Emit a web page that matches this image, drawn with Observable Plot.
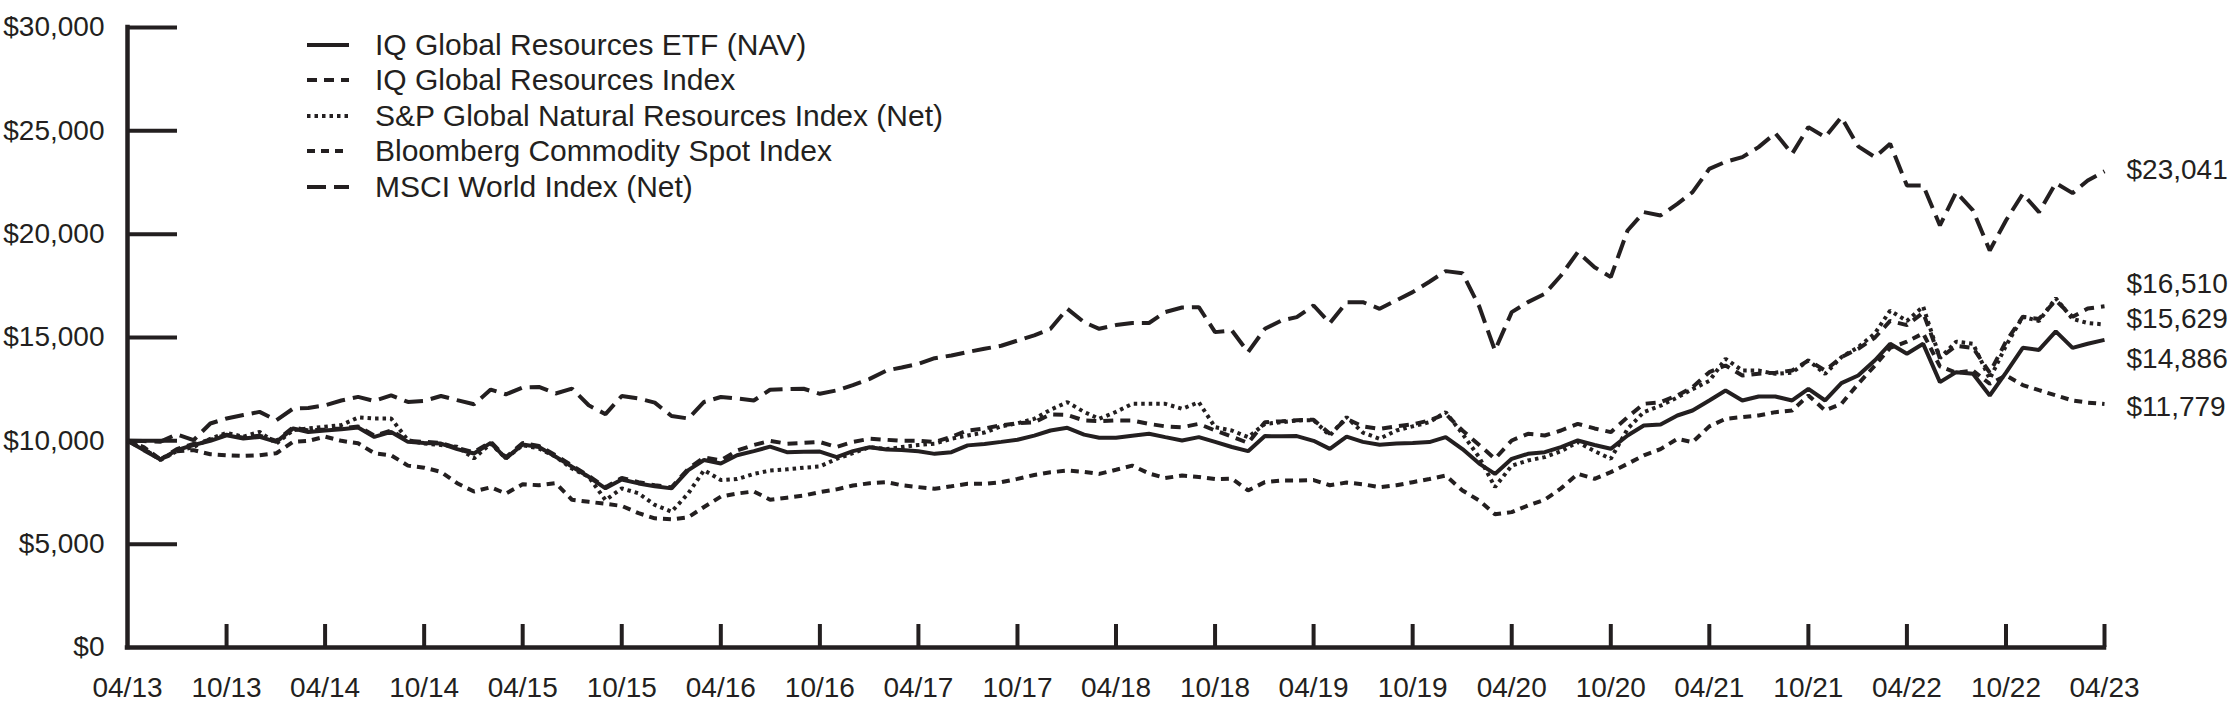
<!DOCTYPE html>
<html><head><meta charset="utf-8">
<script src="https://cdn.jsdelivr.net/npm/d3@7"></script>
<script src="https://cdn.jsdelivr.net/npm/@observablehq/plot@0.6"></script>
<style>
body{margin:0;background:#fff;}
#wrap{position:relative;width:2230px;height:704px;font-family:"Liberation Sans",Arial,sans-serif;color:#231f20;}
#legend{position:absolute;left:307px;top:27px;}
.row{display:flex;align-items:center;height:35.5px;font-size:30px;white-space:nowrap;}
.row svg{width:42px;height:10px;margin-right:26px;flex:none;}
</style></head><body><div id="wrap"><div id="legend"></div></div>
<script>
// ---- data ----
const startMonth = "2013-04";
const seriesNames = [
  "IQ Global Resources ETF (NAV)",
  "IQ Global Resources Index",
  "S&P Global Natural Resources Index (Net)",
  "Bloomberg Commodity Spot Index",
  "MSCI World Index (Net)"
];
const etfNav = [10000,9550,9100,9550,9800,10000,10270,10110,10190,9950,10600,10430,10500,10560,10640,10190,10430,9950,9900,9870,9600,9390,9900,9150,9820,9700,9230,8750,8260,7700,8130,7940,7800,7700,8580,9070,8900,9300,9500,9720,9450,9470,9480,9210,9500,9690,9580,9560,9500,9370,9450,9780,9850,9950,10050,10250,10500,10630,10300,10150,10150,10250,10340,10180,10020,10180,9950,9700,9500,10230,10220,10230,10000,9610,10200,9950,9810,9870,9900,9940,10180,9600,8900,8400,9130,9370,9450,9700,10017,9800,9614,10259,10743,10791,11226,11468,11950,12436,11952,12146,12146,11952,12517,11952,12791,13162,13900,14694,14211,14694,12839,13323,13243,12194,13300,14500,14400,15300,14500,14700,14886];
const iqIndex = [10000,9600,9100,9600,9850,10050,10300,10150,10250,10000,10650,10500,10550,10600,10700,10250,10500,10000,9950,9900,9650,9450,9950,9200,9900,9750,9300,8800,8300,7750,8200,8000,7850,7750,8650,9200,9050,9530,9800,10000,9860,9900,9940,9700,9950,10100,10050,10000,10000,9940,10200,10500,10600,10750,10850,10900,11280,11250,10985,10950,10990,10985,10820,10700,10660,10820,10500,10200,9900,10900,10950,11000,11020,10340,11065,10700,10580,10700,10800,10985,11300,10500,9800,9130,10017,10339,10259,10500,10823,10600,10420,11146,11791,11872,12200,12598,13323,13646,13162,13250,13300,13404,13888,13404,14049,14453,15000,15800,15600,16200,14000,14600,14500,13300,14800,16000,15900,16800,16000,16400,16510];
const spNatRes = [10000,9600,9070,9500,9700,10100,10390,10200,10435,9870,10515,10600,10680,10760,11130,11080,11080,10030,9870,9800,9710,9150,9870,9150,9790,9630,9230,8660,8260,7130,7700,7460,6900,6570,7460,8580,8100,8150,8400,8560,8620,8700,8760,9130,9400,9700,9600,9700,9800,9860,10100,10260,10400,10700,10850,11065,11500,11870,11400,11065,11400,11790,11790,11790,11549,11870,10660,10500,10180,10820,10900,10985,11000,10260,11146,10400,10100,10500,10700,10904,11388,10340,9200,7760,8800,9050,9210,9500,9940,9500,9130,10580,11390,11700,12100,12500,12900,13970,13400,13400,13240,13300,13890,13240,14050,14530,15200,16300,15800,16500,14000,14800,14700,13000,14600,16000,15800,16900,15900,15700,15629];
const bcomSpot = [10000,9700,9100,9500,9550,9350,9300,9270,9300,9400,9950,10000,10200,10000,9880,9400,9300,8800,8700,8500,7950,7550,7750,7450,7900,7850,7950,7150,7050,6950,6850,6500,6250,6200,6300,6800,7300,7450,7550,7150,7250,7350,7520,7650,7840,7950,8000,7850,7760,7680,7800,7920,7920,8000,8160,8350,8480,8560,8500,8400,8600,8800,8420,8200,8320,8250,8150,8170,7600,8000,8080,8080,8100,7850,7980,7900,7760,7850,8000,8150,8320,7600,7110,6450,6550,6870,7150,7700,8400,8162,8484,8888,9300,9600,10097,9936,10700,11065,11150,11227,11388,11468,12194,11468,11791,12759,13646,14500,14800,15200,13600,13300,13400,12760,13160,12700,12450,12200,11950,11850,11779];
const msciWorld = [10000,9990,9960,10320,10030,10840,11080,11250,11400,11000,11560,11590,11720,11950,12125,11930,12200,11880,11930,12170,11970,11770,12480,12250,12580,12610,12290,12530,11720,11290,12170,12050,11850,11200,11080,11880,12120,12050,11950,12470,12500,12520,12275,12440,12700,13000,13400,13550,13720,14000,14130,14300,14454,14600,14850,15100,15420,16390,15740,15420,15600,15700,15700,16230,16450,16469,15260,15340,14290,15420,15824,15985,16549,15695,16711,16711,16390,16800,17195,17700,18211,18114,16500,14372,16227,16711,17114,18001,19130,18400,17921,20179,21066,20905,21469,22033,23163,23500,23727,24211,24888,23889,25179,24695,25663,24250,23727,24372,22356,22356,20421,22033,21147,19211,20663,21953,21066,22469,21985,22600,23041];
const xTickLabels = ["04/13","10/13","04/14","10/14","04/15","10/15","04/16","10/16","04/17","10/17","04/18","10/18","04/19","10/19","04/20","10/20","04/21","10/21","04/22","10/22","04/23"];
const yTickValues = [0,5000,10000,15000,20000,25000,30000];

// ---- build ----
const ink = "#231f20";
const allSeries = [etfNav, iqIndex, spNatRes, bcomSpot, msciWorld];
const dashes = [null, "10,7", "3.5,4", "8,6", "19,8"];
const labelDy = [19, -22, -5, 3, -1];
const start = d3.utcParse("%Y-%m")(startMonth);
const dateAt = i => d3.utcMonth.offset(start, i);
const table = allSeries.map((vals, s) => vals.map((v, i) => ({date: dateAt(i), value: v, series: seriesNames[s]})));
const xTicks = xTickLabels.map(d3.utcParse("%m/%y"));
const W = 2230, H = 704, mL = 127, mR = 126, mT = 27, mB = 57;
const innerW = W - mL - mR, innerH = H - mT - mB;
const fmt = d3.format("$,");

const marks = [
  Plot.ruleY(yTickValues.filter(v => v > 0), {stroke: ink, strokeWidth: 4, insetRight: innerW - 50}),
  Plot.ruleX(xTicks.slice(1), {stroke: ink, strokeWidth: 4, insetTop: innerH - 23}),
  Plot.ruleY([0], {stroke: ink, strokeWidth: 4.5, strokeLinecap: "square"}),
  Plot.ruleX([start], {stroke: ink, strokeWidth: 4.5, strokeLinecap: "square"}),
  Plot.axisY({ticks: yTickValues, tickSize: 0, tickPadding: 23, tickFormat: fmt, fontSize: 28, label: null}),
  Plot.axisX({ticks: xTicks, tickSize: 0, tickPadding: 30, tickFormat: d3.utcFormat("%m/%y"), fontSize: 28, label: null})
];
[4, 3, 2, 1, 0].forEach(s => {
  marks.push(Plot.lineY(table[s], {x: "date", y: "value", stroke: ink, strokeWidth: 4,
    strokeDasharray: dashes[s] || undefined, strokeLinejoin: "miter", strokeLinecap: "butt"}));
});
allSeries.forEach((vals, s) => {
  const last = table[s][table[s].length - 1];
  marks.push(Plot.text([last], {x: "date", y: "value", text: d => fmt(d.value), dx: 22, dy: labelDy[s],
    textAnchor: "start", fontSize: 28, fill: ink}));
});

const chart = Plot.plot({
  width: W, height: H, marginLeft: mL, marginRight: mR, marginTop: mT, marginBottom: mB,
  style: {fontFamily: '"Liberation Sans", Arial, sans-serif', color: ink, background: "#fff"},
  x: {type: "utc", domain: [start, dateAt(120)]},
  y: {domain: [0, 30000]},
  marks
});
document.getElementById("wrap").prepend(chart);

// legend
const legend = document.getElementById("legend");
seriesNames.forEach((name, s) => {
  const row = document.createElement("div");
  row.className = "row";
  const dash = dashes[s] ? `stroke-dasharray="${dashes[s]}"` : "";
  row.innerHTML = `<svg viewBox="0 0 42 10"><line x1="0" y1="5" x2="42" y2="5" stroke="${ink}" stroke-width="4" ${dash}/></svg><span></span>`;
  row.querySelector("span").textContent = name;
  legend.appendChild(row);
});
</script></body></html>
